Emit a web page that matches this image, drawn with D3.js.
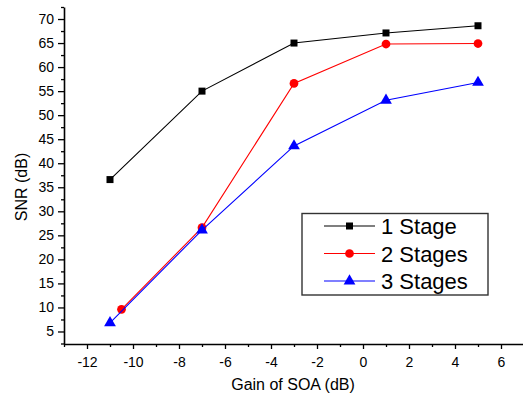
<!DOCTYPE html>
<html><head><meta charset="utf-8">
<script src="https://cdn.jsdelivr.net/npm/d3@7"></script>
<style>body{margin:0;background:#fff}svg{display:block}text{font-family:"Liberation Sans",Arial,sans-serif}</style>
</head><body>
<svg id="c" width="523" height="398"></svg>
<script>
const gain1 = [-11, -7, -3, 1, 5];
const snr1 = [36.6, 55.0, 65.0, 67.1, 68.6];
const gain2 = [-10.5, -7, -3, 1, 5];
const snr2 = [9.6, 26.6, 56.6, 64.8, 64.9];
const gain3 = [-11, -7, -3, 1, 5];
const snr3 = [6.8, 26.1, 43.6, 53.1, 56.8];
const seriesNames = ["1 Stage", "2 Stages", "3 Stages"];
const seriesColors = ["#000000", "#ff0000", "#0000ff"];
const seriesSymbols = [d3.symbolSquare, d3.symbolCircle, d3.symbolTriangle];
const xMajor = [-12, -10, -8, -6, -4, -2, 0, 2, 4, 6];
const xMinor = [-13, -11, -9, -7, -5, -3, -1, 1, 3, 5, 7];
const yMajor = [5, 10, 15, 20, 25, 30, 35, 40, 45, 50, 55, 60, 65, 70];
const yMinor = [2.5, 7.5, 12.5, 17.5, 22.5, 27.5, 32.5, 37.5, 42.5, 47.5, 52.5, 57.5, 62.5, 67.5, 72.5];

const svg = d3.select("#c");
const x = d3.scaleLinear().domain([-13, 7]).range([64, 524]);
const y = d3.scaleLinear().domain([2.5, 72.5]).range([343.5, 7]);

// minor ticks
svg.append("g").attr("transform", "translate(64,0)")
  .call(d3.axisLeft(y).tickValues(yMinor).tickSize(3).tickSizeOuter(0).tickFormat(""))
  .call(g => g.select(".domain").remove());
svg.append("g").attr("transform", "translate(0,344)")
  .call(d3.axisBottom(x).tickValues(xMinor).tickSize(3).tickSizeOuter(0).tickFormat(""))
  .call(g => g.select(".domain").remove());

const yAx = svg.append("g").attr("transform", "translate(64,0)")
  .call(d3.axisLeft(y).tickValues(yMajor).tickSize(6).tickSizeOuter(0).tickPadding(4).tickFormat(d => String(d)));
const xAx = svg.append("g").attr("transform", "translate(0,344)")
  .call(d3.axisBottom(x).tickValues(xMajor).tickSize(5).tickSizeOuter(0).tickPadding(8).tickFormat(d => String(d)));
[yAx, xAx].forEach(g => {
  g.selectAll("text").attr("font-size", 14).attr("font-family", '"Liberation Sans",Arial,sans-serif').attr("fill", "#000");
  g.select(".domain").attr("stroke-width", 1.6);
});
svg.selectAll(".tick line").attr("stroke", "#000").attr("stroke-width", 1.3);

svg.append("text").attr("x", 293).attr("y", 390).attr("text-anchor", "middle")
  .attr("font-size", 16).text("Gain of SOA (dB)");
svg.append("text").attr("transform", "translate(27,187) rotate(-90)").attr("text-anchor", "middle")
  .attr("font-size", 16).text("SNR (dB)");

const series = [[gain1, snr1], [gain2, snr2], [gain3, snr3]];
const line = d3.line().x(d => x(d[0])).y(d => y(d[1]));
const symSizes = [49, 60, 60];
series.forEach(([gx, sy], i) => {
  const pts = gx.map((g, j) => [g, sy[j]]);
  svg.append("path").datum(pts).attr("d", line).attr("fill", "none")
    .attr("stroke", seriesColors[i]).attr("stroke-width", 1.1);
  svg.selectAll(null).data(pts).enter().append("path")
    .attr("d", d3.symbol().type(seriesSymbols[i]).size(symSizes[i]))
    .attr("transform", d => `translate(${x(d[0])},${y(d[1])})`)
    .attr("fill", seriesColors[i]);
});

// legend
const lg = svg.append("g");
lg.append("rect").attr("x", 302).attr("y", 213.5).attr("width", 186).attr("height", 81.5)
  .attr("fill", "#fff").attr("stroke", "#333").attr("stroke-width", 1.4);
seriesNames.forEach((n, i) => {
  const cy = 226 + i * 27.5;
  lg.append("line").attr("x1", 324).attr("x2", 375).attr("y1", cy).attr("y2", cy)
    .attr("stroke", seriesColors[i]).attr("stroke-width", 1.1);
  lg.append("path").attr("d", d3.symbol().type(seriesSymbols[i]).size(symSizes[i]))
    .attr("transform", `translate(349.5,${cy})`).attr("fill", seriesColors[i]);
  lg.append("text").attr("x", 381).attr("y", cy + 8).attr("font-size", 22).text(n);
});
</script>
</body></html>
